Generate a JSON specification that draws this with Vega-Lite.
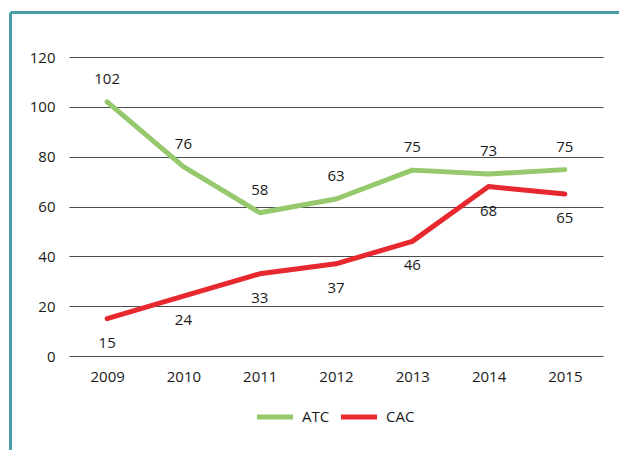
{
  "$schema": "https://vega.github.io/schema/vega-lite/v6.json",
  "width": 534,
  "height": 299,
  "autosize": {"type": "none"},
  "padding": {"left": 69, "top": 57, "right": 16, "bottom": 94},
  "background": "white",
  "config": {
    "view": {"stroke": null},
    "font": "Open Sans",
    "axis": {"labelFont": "Open Sans", "labelFontSize": 15, "labelColor": "#1a1a1a", "title": null, "ticks": false, "domain": false},
    "legend": {"labelFont": "Open Sans", "labelFontSize": 15, "labelColor": "#1a1a1a"}
  },
  "data": {
    "values": [
      {"year": 2009, "series": "ATC", "value": 102},
      {"year": 2010, "series": "ATC", "value": 76},
      {"year": 2011, "series": "ATC", "value": 57.5},
      {"year": 2012, "series": "ATC", "value": 63},
      {"year": 2013, "series": "ATC", "value": 74.6},
      {"year": 2014, "series": "ATC", "value": 73},
      {"year": 2015, "series": "ATC", "value": 74.8},
      {"year": 2009, "series": "CAC", "value": 15},
      {"year": 2010, "series": "CAC", "value": 24},
      {"year": 2011, "series": "CAC", "value": 33},
      {"year": 2012, "series": "CAC", "value": 37},
      {"year": 2013, "series": "CAC", "value": 46},
      {"year": 2014, "series": "CAC", "value": 68},
      {"year": 2015, "series": "CAC", "value": 65}
    ]
  },
  "layer": [
    {
      "data": {"values": [{}]},
      "mark": {"type": "rule", "stroke": "#4A9DA5", "strokeWidth": 3},
      "encoding": {
        "x": {"datum": 2007.733, "type": "quantitative", "scale": {"domain": [2008.5, 2015.5], "nice": false, "zero": false}},
        "x2": {"datum": 2016.5},
        "y": {"datum": 137.86, "type": "quantitative", "scale": {"domain": [0, 120], "nice": false, "zero": true}}
      }
    },
    {
      "data": {"values": [{}]},
      "mark": {"type": "rule", "stroke": "#4A9DA5", "strokeWidth": 3},
      "encoding": {
        "x": {"datum": 2007.733, "type": "quantitative"},
        "y": {"datum": 137.86, "type": "quantitative"},
        "y2": {"datum": -45}
      }
    },
    {
      "mark": {"type": "line", "strokeWidth": 5, "strokeCap": "round", "strokeJoin": "round"},
      "encoding": {
        "x": {
          "field": "year", "type": "quantitative",
          "axis": {"values": [2009, 2010, 2011, 2012, 2013, 2014, 2015], "format": "d", "grid": false, "labelPadding": 13}
        },
        "y": {
          "field": "value", "type": "quantitative",
          "axis": {"values": [0, 20, 40, 60, 80, 100, 120], "grid": true, "gridColor": "#4d4d4d", "gridOpacity": 1, "gridWidth": 1, "labelPadding": 14}
        },
        "color": {
          "field": "series", "type": "nominal",
          "scale": {"domain": ["ATC", "CAC"], "range": ["#96C86C", "#E8282F"]},
          "legend": {"orient": "none", "legendX": 185, "legendY": 339, "direction": "horizontal", "title": null, "symbolType": "stroke", "symbolSize": 1300, "symbolStrokeWidth": 5, "labelOffset": 6, "columnPadding": 0}
        }
      }
    },
    {
      "transform": [{"filter": "datum.series === 'ATC'"}],
      "mark": {"type": "text", "dy": -23, "fontSize": 15, "color": "#1a1a1a", "font": "Open Sans"},
      "encoding": {
        "x": {"field": "year", "type": "quantitative"},
        "y": {"field": "value", "type": "quantitative"},
        "text": {"field": "value", "type": "quantitative", "format": ".0f"}
      }
    },
    {
      "transform": [{"filter": "datum.series === 'CAC'"}],
      "mark": {"type": "text", "dy": 24, "fontSize": 15, "color": "#1a1a1a", "font": "Open Sans"},
      "encoding": {
        "x": {"field": "year", "type": "quantitative"},
        "y": {"field": "value", "type": "quantitative"},
        "text": {"field": "value", "type": "quantitative", "format": ".0f"}
      }
    }
  ]
}
